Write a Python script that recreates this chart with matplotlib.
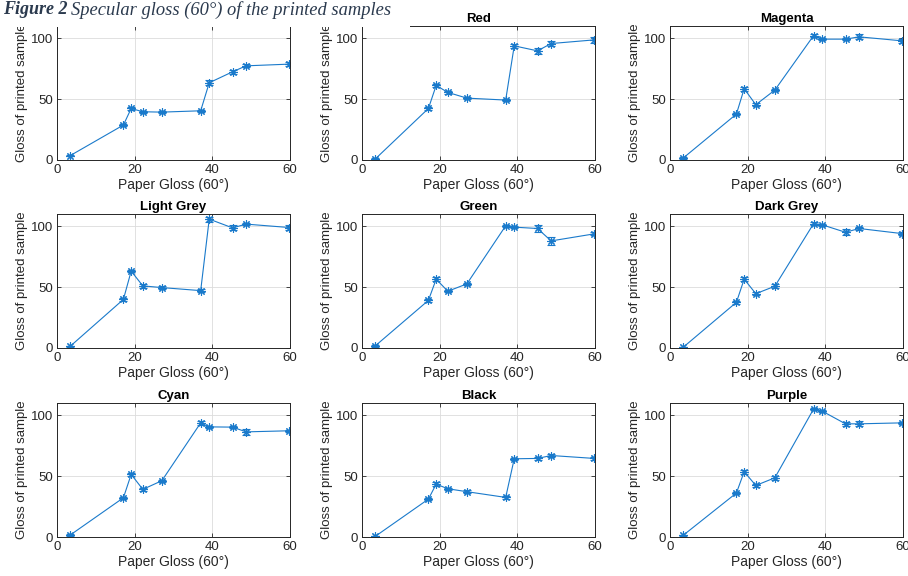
import numpy as np
import matplotlib
matplotlib.use('Agg')
from matplotlib import pyplot as plt
from matplotlib.patches import Rectangle

# Paper gloss (60 deg) of the substrates, same for every panel
paper_gloss = [3.4, 17.1, 19.1, 22.1, 27.0, 37.0, 39.2, 45.2, 48.7, 59.8]

# Panel titles (first panel has none)
titles = ['', 'Red', 'Magenta', 'Light Grey', 'Green', 'Dark Grey', 'Cyan', 'Black', 'Purple']

# Gloss of printed samples for each colour
gloss_plain = [3.6, 28.7, 42.3, 39.6, 39.3, 40.4, 63.4, 72.4, 77.3, 78.7]
gloss_red = [0.8, 42.3, 61.2, 55.5, 50.8, 49.2, 93.7, 89.6, 95.6, 98.6]
gloss_magenta = [1.6, 37.7, 58.5, 45.4, 57.4, 102.2, 99.2, 99.2, 101.1, 97.8]
gloss_lightgrey = [1.4, 39.9, 63.1, 51.0, 49.6, 47.1, 105.8, 98.6, 101.7, 98.9]
gloss_green = [1.7, 39.1, 56.5, 46.6, 52.6, 100.3, 99.2, 98.1, 87.9, 93.7]
gloss_darkgrey = [0.6, 37.5, 56.5, 44.6, 50.7, 102.2, 101.1, 95.0, 98.1, 93.9]
gloss_cyan = [1.6, 32.2, 51.4, 39.1, 46.2, 93.7, 90.4, 90.2, 86.3, 87.2]
gloss_black = [0.5, 31.1, 43.4, 39.6, 37.2, 32.5, 64.2, 64.5, 66.9, 64.5]
gloss_purple = [1.4, 36.1, 53.6, 42.3, 48.6, 105.2, 103.3, 92.9, 92.9, 93.7]

# Standard deviations (error bars)
err_plain = [0.5, 1.0, 1.5, 1.0, 1.0, 1.0, 2.0, 1.5, 1.2, 1.5]
err_red = [0.5, 1.0, 1.5, 1.2, 1.0, 1.0, 1.5, 2.5, 2.0, 2.5]
err_magenta = [0.5, 1.0, 1.5, 1.0, 1.0, 1.0, 1.0, 1.0, 2.0, 1.5]
err_lightgrey = [0.5, 1.0, 1.0, 1.5, 1.0, 1.0, 2.0, 2.0, 1.0, 2.0]
err_green = [0.5, 1.0, 1.5, 1.0, 1.0, 1.0, 1.0, 2.5, 3.5, 1.2]
err_darkgrey = [0.5, 1.0, 1.5, 1.0, 1.5, 1.0, 1.0, 2.5, 1.5, 1.0]
err_cyan = [0.5, 1.0, 1.5, 1.0, 1.0, 1.5, 1.0, 1.0, 2.5, 1.0]
err_black = [0.5, 1.0, 1.5, 1.0, 1.0, 1.0, 1.0, 1.5, 1.2, 1.2]
err_purple = [0.5, 1.0, 1.5, 1.2, 1.5, 1.0, 1.0, 1.5, 2.0, 1.0]

series = [gloss_plain, gloss_red, gloss_magenta, gloss_lightgrey, gloss_green,
          gloss_darkgrey, gloss_cyan, gloss_black, gloss_purple]
errors = [err_plain, err_red, err_magenta, err_lightgrey, err_green,
          err_darkgrey, err_cyan, err_black, err_purple]

x_ticks = [0, 20, 40, 60]
y_ticks = [0, 50, 100]

plt.rcParams['font.family'] = ['Liberation Sans', 'DejaVu Sans']
line_col = '#1a7acb'
axis_col = '#262626'
caption_col = '#2b3a4e'

fig = plt.figure(figsize=(9.08, 5.76), dpi=100)

# axes positions in pixels (left, top of the box) of the MATLAB-like grid
col_left = [57, 362, 670]
row_top = [26, 214, 403]
ax_w, ax_h = 233, 134

for i in range(9):
    r, c = divmod(i, 3)
    left = col_left[c] / 908
    bottom = 1 - (row_top[r] + ax_h) / 576
    ax = fig.add_axes([left, bottom, ax_w / 908, ax_h / 576])
    ax.errorbar(paper_gloss, series[i], yerr=errors[i], color=line_col, lw=0.8,
                marker=(8, 2, 0), ms=6, mew=0.8, capsize=3, elinewidth=0.8, capthick=0.8)
    ax.set_xlim(0, 60)
    ax.set_ylim(0, 110)
    ax.set_xticks(x_ticks)
    ax.set_yticks(y_ticks)
    ax.grid(True, color='#dcdcdc', lw=0.6)
    ax.set_axisbelow(True)
    ax.tick_params(direction='in', length=3, width=0.6, colors=axis_col,
                   labelsize=9.5, top=True, right=True, pad=3)
    for s in ax.spines.values():
        s.set_color(axis_col)
        s.set_linewidth(0.7)
    ax.set_xlabel('Paper Gloss (60°)', fontsize=10, color=axis_col, labelpad=1)
    ax.set_ylabel('Gloss of printed sample', fontsize=9.5, color=axis_col, labelpad=2)
    if titles[i]:
        ax.set_title(titles[i], fontsize=9.5, fontweight='bold', color='black', pad=3)

# white band of the page caption that covers the top of the first row
fig.patches.append(Rectangle((0, 1 - 27 / 576), 410 / 908, 27 / 576, transform=fig.transFigure,
                             facecolor='white', edgecolor='none', zorder=10))
t1 = fig.text(0.003, 1 - 10 / 576, 'Figure 2', family='Liberation Serif', style='italic',
              weight='bold', fontsize=13, color=caption_col, va='center', zorder=11)
fig.canvas.draw()
bb = t1.get_window_extent()
fig.text((bb.x1 + 4) / 908, 1 - 10 / 576, 'Specular gloss (60°) of the printed samples',
         family='Liberation Serif', style='italic', fontsize=13.3, color=caption_col,
         va='center', zorder=11)

fig.savefig('out.png', dpi=100)
